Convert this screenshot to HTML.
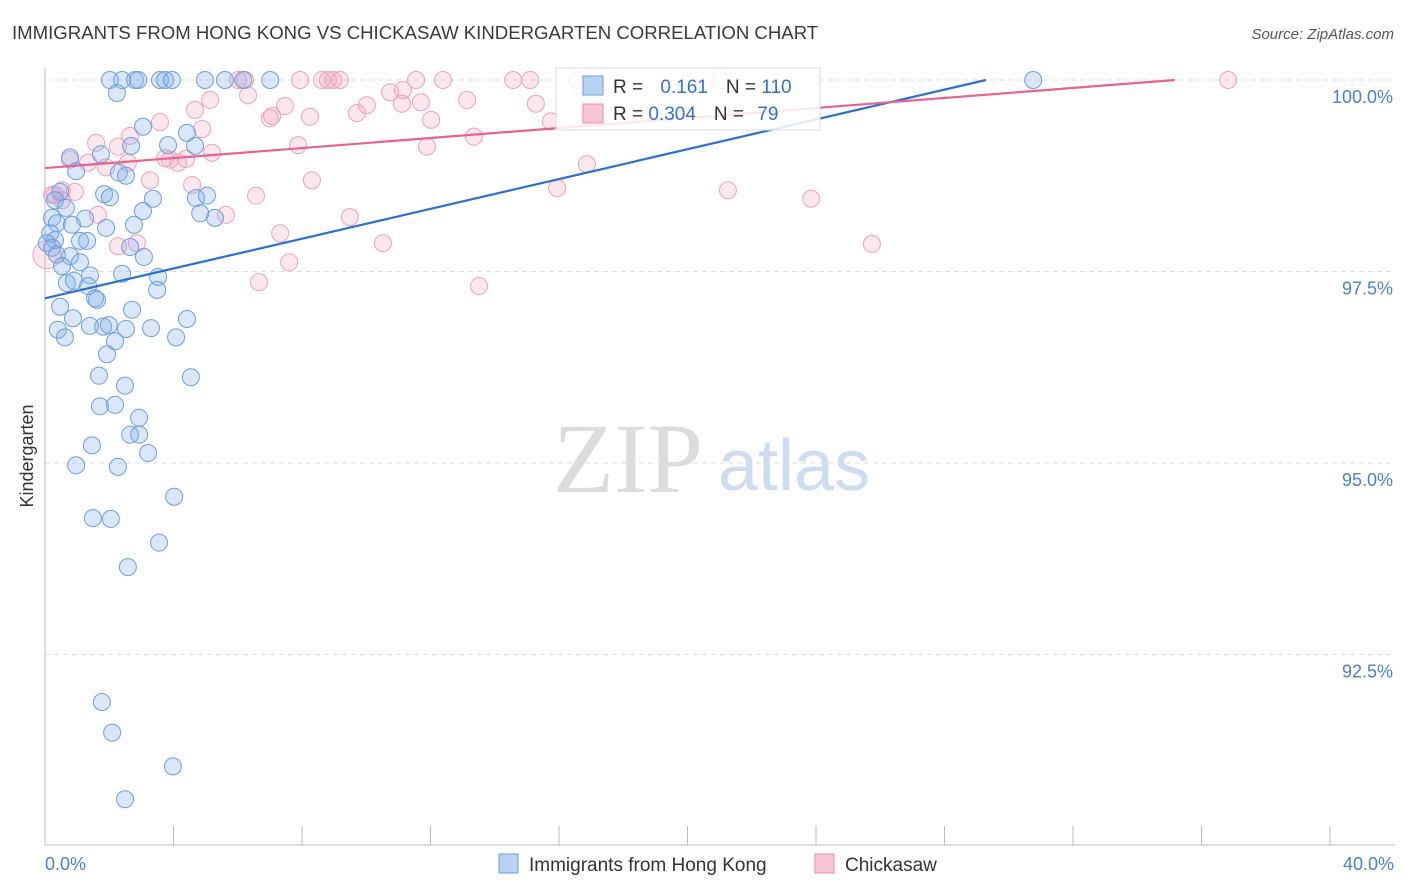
<!DOCTYPE html>
<html><head><meta charset="utf-8"><style>
body{margin:0;background:#fff;font-family:"Liberation Sans",sans-serif;}
svg{display:block}
</style></head><body>
<svg width="1406" height="892">
<text x="12" y="39" font-size="18.6" fill="#3a3a3a">IMMIGRANTS FROM HONG KONG VS CHICKASAW KINDERGARTEN CORRELATION CHART</text>
<text x="1394" y="39" font-size="15" fill="#555" font-style="italic" text-anchor="end">Source: ZipAtlas.com</text>
<text x="553" y="492" font-size="100" font-family="Liberation Serif,serif" fill="#dcdcdc">ZIP</text>
<text x="718" y="490" font-size="72" fill="#cddcf1">atlas</text>
<g id="grid"></g>
<g id="axes"></g>
<g id="marks"></g>
<text transform="translate(33,456) rotate(-90)" font-size="18" fill="#333" text-anchor="middle">Kindergarten</text>
<text x="45" y="870" font-size="18" fill="#4a7fd6">0.0%</text>
<text x="1394" y="870" font-size="18" fill="#4a7fd6" text-anchor="end">40.0%</text>
<g>
<rect x="556" y="68" width="264" height="62" fill="rgba(255,255,255,0.85)" stroke="#ddd"/>
<rect x="583" y="76" width="20" height="19" fill="#b8d2f3" stroke="#6a9ee0"/>
<rect x="583" y="104" width="20" height="19" fill="#f8c4d4" stroke="#eb8fae"/>
<text x="613" y="93" font-size="19" fill="#333">R = <tspan fill="#3570d0" dx="12">0.161</tspan><tspan fill="#333" dx="18">N = </tspan><tspan fill="#3570d0">110</tspan></text>
<text x="613" y="120" font-size="19" fill="#333">R = <tspan fill="#3570d0">0.304</tspan><tspan fill="#333" dx="18">N = </tspan><tspan fill="#3570d0" dx="8">79</tspan></text>
</g>
<g>
<rect x="499" y="854" width="19" height="19" fill="#b8d2f3" stroke="#6a9ee0"/>
<text x="529" y="871" font-size="19" fill="#333">Immigrants from Hong Kong</text>
<rect x="815" y="854" width="19" height="19" fill="#f8c4d4" stroke="#eb8fae"/>
<text x="845" y="871" font-size="19" fill="#333">Chickasaw</text>
</g>
</svg>
<script>
const yTicks=[100,97.5,95,92.5];
const yTickLabels=["100.0%","97.5%","95.0%","92.5%"];
const xTickVals=[0,4,8,12,16,20,24,28,32,36,40];
const blueX=[2.02,2.40,2.80,2.90,3.58,3.74,3.95,4.98,5.60,6.17,7.01,30.76,2.24,3.05,4.42,2.68,3.83,4.67,0.78,1.74,0.97,2.30,2.52,1.84,2.02,3.36,5.04,4.70,0.47,0.31,0.65,3.05,4.83,5.29,0.22,0.37,0.84,1.25,1.90,2.77,0.16,0.31,0.06,1.09,1.31,2.65,0.22,0.37,0.78,1.09,3.08,0.53,1.40,2.40,3.52,0.68,0.90,1.34,3.49,1.56,1.62,0.47,2.71,0.87,4.42,0.40,1.40,1.81,1.99,2.52,3.30,0.62,2.18,4.08,1.93,1.68,4.54,2.49,1.71,2.18,2.93,2.65,2.93,1.46,3.21,0.97,2.27,4.02,1.49,2.05,3.55,2.58,1.77,2.09,3.98,2.49];
const blueY=[100,100,100,100,100,100,100,100,100,100,100,100,99.83,99.39,99.31,99.14,99.15,99.14,98.99,99.03,98.81,98.79,98.75,98.51,98.47,98.45,98.49,98.46,98.54,98.43,98.33,98.29,98.26,98.20,98.20,98.13,98.11,98.19,98.07,98.11,98.00,97.91,97.87,97.90,97.90,97.82,97.81,97.72,97.70,97.62,97.69,97.57,97.45,97.47,97.43,97.35,97.38,97.31,97.26,97.15,97.13,97.04,97.00,96.89,96.88,96.74,96.79,96.78,96.80,96.75,96.76,96.64,96.59,96.64,96.42,96.14,96.12,96.01,95.74,95.76,95.59,95.37,95.37,95.23,95.13,94.97,94.95,94.56,94.28,94.27,93.96,93.64,91.88,91.48,91.04,90.61];
const pinkX=[0.53,0.31,0.06,0.22,0.53,0.93,0.78,1.34,1.59,1.90,1.65,2.27,2.65,2.58,2.86,2.27,3.27,3.58,3.74,3.89,4.14,4.39,4.58,4.67,4.89,5.14,5.20,5.63,6.01,6.23,6.32,6.57,6.66,7.00,7.07,7.32,7.47,7.60,7.94,7.88,8.25,8.31,8.62,8.81,8.97,9.18,9.49,9.71,10.02,10.52,10.74,11.11,11.14,11.55,11.70,11.89,12.02,12.39,13.14,13.35,13.51,14.57,15.10,15.28,15.75,15.94,16.56,16.87,21.01,21.26,23.85,25.74,36.83];
const pinkY=[98.56,98.50,97.72,98.50,98.43,98.54,98.96,98.92,99.18,98.86,98.24,99.13,99.27,98.92,97.87,97.83,98.69,99.45,98.98,98.96,98.92,98.97,98.63,99.61,99.36,99.74,99.05,98.24,100,100,99.80,98.49,97.36,99.50,99.53,98.00,99.66,97.62,100,99.15,99.52,98.69,100,100,100,100,98.21,99.57,99.67,97.87,99.84,99.69,99.87,100,99.71,99.13,99.48,100,99.74,99.26,97.31,100,100,99.69,99.46,98.59,100,98.90,100,98.56,98.45,97.86,100];
const blueTrend=[97.15,0.0973];
const pinkTrend=[98.85,0.0327];
const NS="http://www.w3.org/2000/svg";
const X=v=>45+v*32.125;
const Y=v=>80+(100-v)*76.6;
function mk(t,a,p){const e=document.createElementNS(NS,t);for(const k in a)e.setAttribute(k,a[k]);p.appendChild(e);return e;}
const grid=document.getElementById('grid'),axes=document.getElementById('axes'),marks=document.getElementById('marks');
yTicks.forEach((v,i)=>{
 const l=mk('line',{x1:45,x2:1395,y1:Y(v),y2:Y(v),stroke:'#ddd','stroke-dasharray':'5,4'},grid);
 
 
 const t=mk('text',{x:1393,y:Y(v)+23,'font-size':18,fill:'#4a7fd6','text-anchor':'end'},axes);
 t.textContent=yTickLabels[i];
 
 
});
const ya=mk('line',{x1:45,x2:45,y1:68,y2:845,stroke:'#bbb'},axes);


const xa=mk('line',{x1:45,x2:1395,y1:845,y2:845,stroke:'#bbb'},axes);


xTickVals.forEach(v=>{
 const t=mk('line',{x1:X(v),x2:X(v),y1:826,y2:845,stroke:'#bbb'},axes);
 
 
});
pinkX.forEach((x,i)=>{
 const c=mk('circle',{cx:X(x),cy:Y(pinkY[i]),r:(x<0.1?14:8.5),fill:'rgba(244,160,188,0.25)',stroke:'#eea0bb','stroke-width':1},marks);
 
 
});
blueX.forEach((x,i)=>{
 const c=mk('circle',{cx:X(x),cy:Y(blueY[i]),r:8.5,fill:'rgba(130,175,232,0.3)',stroke:'#6c9fe0','stroke-width':1},marks);
 
 
});
function trend(tr,col,name){
 const xEnd=Math.min(40,(100-tr[0])/tr[1]);
 const p=mk('line',{x1:X(0),y1:Y(tr[0]),x2:X(xEnd),y2:Y(tr[0]+tr[1]*xEnd),stroke:col,'stroke-width':2.2},marks);
 
 
}
trend(blueTrend,'#2a6fd6','hong-kong-trendline');
trend(pinkTrend,'#e8628e','chickasaw-trendline');
</script>
</body></html>
